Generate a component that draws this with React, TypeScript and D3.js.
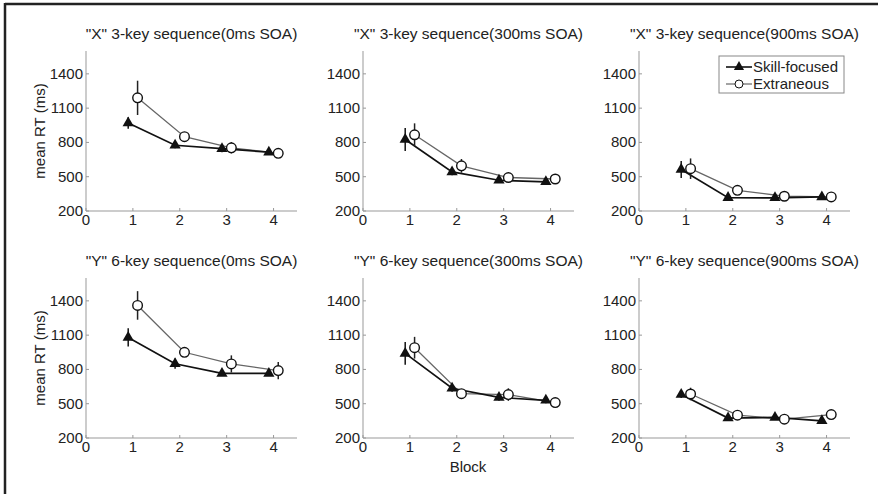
import React from 'react';
import {scaleLinear, line, symbol, symbolTriangle} from 'd3';

// panel titles, row by row
const titles = [
  '"X" 3-key sequence(0ms SOA)', '"X" 3-key sequence(300ms SOA)', '"X" 3-key sequence(900ms SOA)',
  '"Y" 6-key sequence(0ms SOA)', '"Y" 6-key sequence(300ms SOA)', '"Y" 6-key sequence(900ms SOA)'
];
const blocks = [1, 2, 3, 4];
const yTicks = [200, 500, 800, 1100, 1400];
const xTicks = [0, 1, 2, 3, 4];

// mean RT per block, one array per panel
const skillMean = [
  [970, 775, 745, 715],
  [826, 542, 469, 455],
  [563, 317, 315, 323],
  [1080, 850, 765, 765],
  [940, 635, 555, 530],
  [580, 374, 380, 350]
];
const skillErr = [
  [50, 25, 30, 20],
  [100, 30, 20, 15],
  [75, 15, 15, 15],
  [80, 45, 20, 20],
  [100, 30, 30, 25],
  [30, 20, 20, 15]
];
const extraMean = [
  [1190, 850, 753, 705],
  [867, 595, 493, 480],
  [570, 381, 329, 323],
  [1360, 950, 848, 790],
  [990, 588, 580, 510],
  [585, 400, 365, 405]
];
const extraErr = [
  [150, 40, 50, 15],
  [100, 60, 20, 15],
  [90, 20, 15, 15],
  [125, 25, 75, 75],
  [95, 15, 55, 15],
  [55, 15, 15, 15]
];

const font = '"Liberation Sans", Arial, sans-serif';
const lefts = [86, 363, 639];
const tops = [51, 278];
const pw = 211;
const ph = 160;
const fs = 15;

const Panel = ({idx}: {idx: number}) => {
  const col = idx % 3;
  const row = Math.floor(idx / 3);
  const x0 = lefts[col];
  const y0 = tops[row];
  const x = scaleLinear().domain([0, 4.5]).range([0, pw]);
  const y = scaleLinear().domain([200, 1600]).range([ph, 0]);
  const tri = symbol().type(symbolTriangle).size(55)();
  const sPts: [number, number][] = blocks.map((b, i) => [x(b - 0.1), y(skillMean[idx][i])]);
  const ePts: [number, number][] = blocks.map((b, i) => [x(b + 0.1), y(extraMean[idx][i])]);
  const ln = line();
  return (
    <g transform={`translate(${x0},${y0})`}>
      <text x={pw / 2} y={-12} textAnchor="middle" fontSize={15.5} fill="#222">{titles[idx]}</text>
      <line x1={0} x2={0} y1={0} y2={ph} stroke="#999" />
      <line x1={0} x2={pw} y1={ph} y2={ph} stroke="#999" />
      {yTicks.map(t => (
        <g key={t}>
          <line x1={0} x2={3} y1={y(t)} y2={y(t)} stroke="#999" />
          <text x={-3} y={y(t) + 5} textAnchor="end" fontSize={fs} fill="#222">{t}</text>
        </g>
      ))}
      {xTicks.map(t => (
        <g key={t}>
          <line x1={x(t)} x2={x(t)} y1={ph} y2={ph - 3} stroke="#999" />
          <text x={x(t)} y={ph + 14} textAnchor="middle" fontSize={fs} fill="#222">{t}</text>
        </g>
      ))}
      <path d={ln(ePts) || ''} fill="none" stroke="#666" strokeWidth={1.3} />
      <path d={ln(sPts) || ''} fill="none" stroke="#111" strokeWidth={1.7} />
      {blocks.map((b, i) => (
        <g key={'s' + b}>
          <line x1={sPts[i][0]} x2={sPts[i][0]} y1={y(skillMean[idx][i] - skillErr[idx][i])} y2={y(skillMean[idx][i] + skillErr[idx][i])} stroke="#111" strokeWidth={1.5} />
          <path d={tri || ''} transform={`translate(${sPts[i][0]},${sPts[i][1]})`} fill="#111" />
        </g>
      ))}
      {blocks.map((b, i) => (
        <g key={'e' + b}>
          <line x1={ePts[i][0]} x2={ePts[i][0]} y1={y(extraMean[idx][i] - extraErr[idx][i])} y2={y(extraMean[idx][i] + extraErr[idx][i])} stroke="#222" strokeWidth={1.5} />
          <circle cx={ePts[i][0]} cy={ePts[i][1]} r={4.8} fill="#fff" stroke="#111" strokeWidth={1.4} />
        </g>
      ))}
    </g>
  );
};

export default function App() {
  const tri = symbol().type(symbolTriangle).size(45)();
  return (
    <svg width={878} height={494} style={{position: 'absolute', left: 0, top: 0, background: '#fff'}} fontFamily={font}>
      <rect x={0} y={0} width={878} height={494} fill="#fff" />
      <line x1={5} x2={878} y1={4} y2={4} stroke="#222" strokeWidth={2.5} />
      <line x1={5} x2={5} y1={3} y2={494} stroke="#222" strokeWidth={2.5} />
      {titles.map((t, i) => <Panel key={t} idx={i} />)}
      {tops.map(t => (
        <text key={t} transform={`translate(45,${t + ph / 2}) rotate(-90)`} textAnchor="middle" fontSize={fs} fill="#222">mean RT (ms)</text>
      ))}
      <text x={lefts[1] + 105} y={472} textAnchor="middle" fontSize={fs} fill="#222">Block</text>
      <g>
        <rect x={719} y={56} width={125} height={37} fill="#fff" stroke="#888" />
        <line x1={726} x2={752} y1={67} y2={67} stroke="#111" strokeWidth={1.6} />
        <path d={tri || ''} transform="translate(739,67)" fill="#111" />
        <text x={753} y={72} fontSize={fs} fill="#222">Skill-focused</text>
        <line x1={726} x2={752} y1={84} y2={84} stroke="#666" strokeWidth={1.2} />
        <circle cx={739} cy={84} r={4} fill="#fff" stroke="#111" />
        <text x={753} y={89} fontSize={fs} fill="#222">Extraneous</text>
      </g>
    </svg>
  );
}
